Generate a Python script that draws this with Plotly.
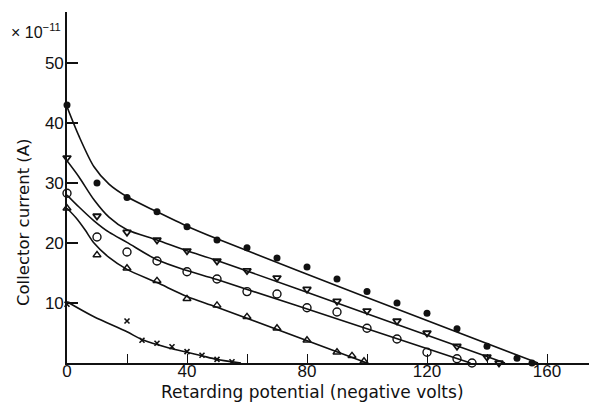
import plotly.graph_objects as go

# Measured points: retarding potential (V) vs collector current (x1e-11 A)
x_filled = [0, 10, 20, 30, 40, 50, 60, 70, 80, 90, 100, 110, 120, 130, 140, 150, 155]
y_filled = [43, 30, 27.6, 25.2, 22.7, 20.5, 19.2, 17.5, 16, 14, 11.9, 10, 8.3, 5.7, 2.8, 0.8, 0]

x_tri_dn = [0, 10, 20, 30, 40, 50, 60, 70, 80, 90, 100, 110, 120, 130, 140, 144]
y_tri_dn = [34.2, 24.5, 21.8, 20.5, 18.7, 17, 15.4, 14.2, 12.3, 10.3, 8.7, 7, 5, 2.8, 1, 0]

x_open = [0, 10, 20, 30, 40, 50, 60, 70, 80, 90, 100, 110, 120, 130, 135]
y_open = [28.3, 21, 18.5, 17, 15.2, 14, 11.9, 11.5, 9.2, 8.5, 5.8, 4, 1.8, 0.7, 0]

x_tri_up = [0, 10, 20, 30, 40, 50, 60, 70, 80, 90, 95, 99]
y_tri_up = [25.8, 18, 15.8, 13.7, 10.7, 9.6, 7.7, 5.8, 3.8, 1.8, 1.2, 0.3]

x_cross = [0, 20, 25, 30, 35, 40, 45, 50, 55]
y_cross = [9.8, 7, 3.8, 3.3, 2.7, 1.9, 1.3, 0.6, 0.2]

# Fitted curves (knots along each drawn curve)
cx_filled = [0, 4, 9, 14, 20, 30, 40, 50, 100, 157]
cy_filled = [42.7, 37.8, 32.7, 29.8, 27.7, 25.2, 22.8, 20.7, 10.9, 0]

cx_tri_dn = [0, 4, 9, 14, 20, 30, 40, 50, 100, 146]
cy_tri_dn = [33.7, 31, 27.2, 24.3, 22.2, 20.5, 18.7, 17.1, 8.2, 0]

cx_open = [0, 4, 9, 14, 20, 30, 40, 50, 100, 134.5]
cy_open = [28, 26, 23.7, 21.8, 20.1, 17.2, 15.4, 13.9, 5.7, 0]

cx_tri_up = [0, 3, 6, 9, 14, 20, 30, 40, 50, 100]
cy_tri_up = [25.8, 24.2, 22.2, 20, 17.6, 15.6, 13.4, 11.1, 9.3, 0]

cx_cross = [0, 9, 20, 25, 34, 40, 45, 50, 58]
cy_cross = [10.2, 7.7, 5.2, 3.9, 2.5, 1.8, 1.2, 0.6, 0]

x_ticks = [0, 40, 80, 120, 160]
y_ticks = [10, 20, 30, 40, 50]

TICK_FONT = "Liberation Sans"
TITLE_FONT = "DejaVu Sans"
INK = "#111111"

fig = go.Figure()

for cx, cy in [(cx_filled, cy_filled), (cx_tri_dn, cy_tri_dn), (cx_open, cy_open),
               (cx_tri_up, cy_tri_up), (cx_cross, cy_cross)]:
    fig.add_trace(go.Scatter(x=cx, y=cy, mode="lines",
                             line=dict(color=INK, width=1.6, shape="spline", smoothing=0.8),
                             hoverinfo="skip", showlegend=False))

marker_sets = [
    (x_filled, y_filled, dict(symbol="circle", size=7, color=INK)),
    (x_tri_dn, y_tri_dn, dict(symbol="triangle-down-open", size=7, color=INK, line=dict(width=1.8, color=INK))),
    (x_open, y_open, dict(symbol="circle-open", size=8, color=INK, line=dict(width=1.4, color=INK))),
    (x_tri_up, y_tri_up, dict(symbol="triangle-up-open", size=7, color=INK, line=dict(width=1.4, color=INK))),
    (x_cross, y_cross, dict(symbol="x-thin-open", size=5, color=INK, line=dict(width=1.6, color=INK))),
]
for mx, my, mk in marker_sets:
    fig.add_trace(go.Scatter(x=mx, y=my, mode="markers", marker=mk,
                             cliponaxis=False, showlegend=False))

fig.update_layout(
    width=599, height=408,
    margin=dict(l=67, r=10, t=12, b=45),
    paper_bgcolor="white", plot_bgcolor="white",
    font=dict(family=TICK_FONT, size=17, color=INK),
    xaxis=dict(
        range=[0, 174], showgrid=False, zeroline=False,
        showline=True, linecolor=INK, linewidth=2,
        tickmode="array", tickvals=x_ticks, ticktext=[str(v) for v in x_ticks],
        ticks="inside", ticklen=9, tickwidth=1.3, tickcolor=INK,
        minor=dict(dtick=20, tick0=0, ticks="inside", ticklen=9, tickwidth=1.3, tickcolor=INK),
        tickfont=dict(family=TICK_FONT, size=17), ticklabelstandoff=-8,
    ),
    yaxis=dict(
        range=[0, 58.5], showgrid=False, zeroline=False,
        showline=True, linecolor=INK, linewidth=1.6,
        tickmode="array", tickvals=y_ticks, ticktext=[str(v) for v in y_ticks],
        ticks="inside", ticklen=11, tickwidth=1.6, tickcolor=INK,
        tickfont=dict(family=TICK_FONT, size=17), ticklabelstandoff=-2,
    ),
    annotations=[
        dict(text="Retarding potential (negative volts)", xref="paper", yref="paper",
             x=(312 - 67) / 522, y=-(392 - 363) / 351, xanchor="center", yanchor="middle",
             showarrow=False, font=dict(family=TITLE_FONT, size=17)),
        dict(text="Collector current (A)", xref="paper", yref="paper",
             x=-(67 - 23) / 522, y=(363 - 222) / 351, xanchor="center", yanchor="middle",
             textangle=-90, showarrow=False, font=dict(family=TITLE_FONT, size=16.5)),
        dict(text="× 10<sup>−11</sup>", xref="paper", yref="paper",
             x=-(67 - 63) / 522, y=(363 - 31) / 351, xanchor="right", yanchor="middle",
             showarrow=False, font=dict(family=TICK_FONT, size=16)),
    ],
)

fig.write_html("out.html")
